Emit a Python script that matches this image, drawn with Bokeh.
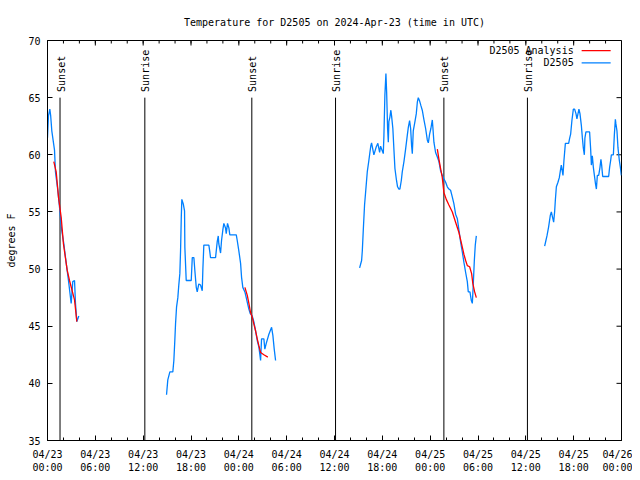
import numpy as np
import pandas as pd
from bokeh.plotting import figure
from bokeh.models import FixedTicker, DatetimeTickFormatter, Range1d, Label
from bokeh.core.properties import value
from bokeh.embed import file_html
from bokeh.resources import INLINE

FONT = "DejaVu Sans Mono"
FS = "10px"
BLUE = "#0080FF"
RED = "#FF0000"

TITLE = "Temperature for D2505 on 2024-Apr-23 (time in UTC)"
START = "2024-04-23 00:00"
SPAN_HOURS = 72

# observation series (hours after start, degrees F)
seg1_hours = [0.0, 0.12, 0.29, 0.4, 0.54, 0.88, 1.0, 1.29, 1.51, 1.72, 2.05, 2.35, 2.63,
              2.97, 3.17, 3.39, 3.51, 3.68, 3.93]
seg1_temp = [61.5, 63.4, 64.0, 63.4, 62.1, 60.4, 58.5, 56.9, 55.4, 53.7, 52.2, 50.5, 49.0,
             47.0, 48.9, 49.0, 47.0, 45.4, 45.9]

seg2_hours = [14.93, 15.09, 15.35, 15.72, 15.85, 15.97, 16.06, 16.19, 16.35, 16.47, 16.60,
              16.69, 16.78, 16.85, 17.03, 17.19, 17.23, 17.40, 18.03, 18.16, 18.36, 18.48,
              18.66, 18.78, 18.98, 19.20, 19.41, 19.49, 19.61, 20.24, 20.36, 20.45, 21.08,
              21.29, 21.42, 21.49, 21.71, 21.83, 21.99, 22.12, 22.33, 22.42, 22.58, 22.75,
              22.87, 23.68, 23.80, 24.00, 24.22, 24.34, 24.50, 24.76, 24.93, 25.09, 25.26,
              25.43, 25.68, 25.88, 26.10, 26.31, 26.51, 26.73, 26.85, 27.14, 27.26, 27.44,
              27.77, 28.11, 28.27, 28.44, 28.61]
seg2_temp = [39.0, 40.3, 41.0, 41.0, 42.0, 43.75, 45.2, 46.7, 47.5, 48.6, 49.6,
             51.6, 54.5, 56.1, 55.7, 55.1, 51.9, 49.0, 49.0, 51.0, 51.0, 49.9,
             48.4, 48.0, 48.7, 48.6, 48.1, 50.0, 52.1, 52.1, 51.5, 51.0, 51.0,
             52.4, 52.9, 52.2, 51.4, 52.5, 53.4, 54.0, 53.6, 53.1, 54.0, 53.6,
             53.0, 53.0, 52.5, 51.6, 50.5, 49.3, 48.4, 48.0, 47.5, 47.0, 46.5,
             46.1, 45.9, 45.4, 44.6, 43.75, 43.2, 42.0, 43.9, 43.9, 43.0, 43.5,
             44.3, 44.9, 44.2, 43.0, 42.0]

seg3_hours = [39.15, 39.40, 39.49, 39.61, 39.77, 39.90, 40.11, 40.31, 40.44, 40.56, 40.65,
              40.94, 41.07, 41.24, 41.44, 41.66, 41.78, 42.12, 42.20, 42.32, 42.45, 42.54,
              42.66, 42.75, 42.82, 42.95, 43.07, 43.16, 43.32, 43.45, 43.58, 43.75, 43.91,
              44.08, 44.20, 44.38, 44.50, 44.71, 44.92, 45.13, 45.26, 45.42, 45.55, 45.67,
              45.76, 45.88, 46.09, 46.26, 46.39, 46.51, 46.68, 46.84, 47.01, 47.21, 47.43,
              47.64, 47.77, 47.93, 48.09, 48.27, 48.34, 48.47, 48.68, 48.90, 49.10, 49.31,
              49.52, 49.72, 49.94, 50.15, 50.35, 50.56, 50.78, 50.98, 51.19, 51.41, 51.61,
              51.82, 52.03, 52.23, 52.45, 52.66, 52.78, 52.99, 53.16, 53.29, 53.41, 53.54,
              53.66, 53.79]
seg3_temp = [50.1, 50.75, 51.6, 53.4, 55.6, 56.7, 58.5, 59.5, 60.2, 60.8, 61.05,
             60.0, 60.3, 60.7, 61.0, 60.2, 60.75, 60.1, 61.7, 65.2, 67.1, 65.5,
             62.3, 61.1, 62.9, 63.3, 63.9, 63.4, 62.3, 60.5, 58.8, 57.9, 57.2,
             57.0, 57.0, 57.75, 58.5, 59.4, 60.5, 61.7, 62.4, 63.0, 62.3, 60.8,
             60.1, 62.1, 62.9, 63.6, 64.6, 65.0, 64.7, 64.3, 63.9, 63.1, 62.3,
             61.3, 61.05, 61.8, 62.3, 63.05, 62.4, 61.1, 60.2, 59.8, 59.4, 58.6,
             58.2, 57.9, 57.6, 57.2, 57.0, 56.9, 56.3, 55.7, 54.8, 54.4, 53.4,
             52.35, 51.5, 50.6, 49.7, 48.9, 48.0, 48.0, 47.25, 47.0, 48.7, 50.75,
             52.1, 52.9]

seg4_hours = [62.36, 62.52, 62.65, 62.86, 63.07, 63.20, 63.36, 63.49, 63.61, 63.70, 63.83,
              64.03, 64.20, 64.33, 64.45, 64.66, 64.78, 64.96, 65.37, 65.50, 65.62, 65.78,
              65.96, 66.12, 66.29, 66.41, 66.66, 66.79, 66.96, 67.09, 67.21, 67.34, 67.41,
              67.54, 68.00, 68.13, 68.22, 68.34, 68.47, 68.60, 68.72, 68.85, 68.97, 69.14,
              69.30, 69.42, 69.51, 69.64, 70.39, 70.51, 70.64, 70.73, 70.98, 71.10, 71.23,
              71.30, 71.43, 71.56, 71.73, 71.86, 71.98]
seg4_temp = [52.0, 52.5, 52.9, 53.7, 54.7, 55.0, 54.5, 54.1, 55.0, 56.0, 57.2,
             57.6, 58.0, 58.6, 59.1, 58.2, 59.5, 61.0, 61.0, 61.45, 61.8, 63.0,
             64.0, 64.0, 63.6, 63.15, 64.0, 63.6, 62.6, 61.5, 60.6, 60.0, 61.45,
             62.0, 62.0, 60.5, 59.1, 59.9, 58.9, 58.2, 57.55, 57.0, 58.2, 58.2,
             58.9, 59.6, 59.1, 58.1, 58.1, 58.9, 59.5, 60.0, 60.0, 61.7, 63.1,
             62.7, 62.1, 60.6, 59.5, 58.9, 58.2]

# analysis series
an1_hours = [0.79, 1.09, 1.38, 1.72, 2.0, 2.47, 2.76, 3.39, 3.68]
an1_temp = [59.4, 58.5, 56.3, 54.5, 52.2, 49.9, 49.0, 47.3, 45.4]
an2_hours = [24.76, 25.06, 25.26, 25.47, 25.68, 25.88, 26.10, 26.31, 26.51, 26.73, 27.14, 27.64]
an2_temp = [48.4, 47.7, 47.0, 46.2, 45.8, 45.2, 44.6, 43.9, 43.3, 42.7, 42.5, 42.3]
an3_hours = [48.90, 49.10, 49.31, 49.52, 49.72, 50.02, 50.35, 50.78, 51.19, 51.61, 51.94,
             52.23, 52.45, 52.66, 52.95, 53.20, 53.36, 53.58, 53.79]
an3_temp = [60.5, 59.6, 58.8, 58.0, 56.7, 56.1, 55.6, 55.0, 54.1, 53.2, 52.2,
            51.3, 50.75, 50.3, 50.2, 49.6, 48.7, 48.0, 47.5]

sunset_hours = [1.57, 25.63, 49.72]
sunrise_hours = [12.21, 36.13, 60.2]

Y_MIN, Y_MAX = 35, 70
y_ticks = [35, 40, 45, 50, 55, 60, 65, 70]
x_major_hours = list(range(0, 73, 6))
x_minor_hours = list(range(0, 73, 2))

start = pd.Timestamp(START)


def to_dt(hours):
    return [start + pd.Timedelta(hours=h) for h in hours]


def to_ms(hours):
    return [(start + pd.Timedelta(hours=h)).timestamp() * 1000.0 for h in hours]


p = figure(frame_width=574, frame_height=400, x_axis_type="datetime", output_backend="svg",
           toolbar_location=None, title=TITLE,
           x_range=Range1d(start, start + pd.Timedelta(hours=SPAN_HOURS)),
           y_range=Range1d(Y_MIN, Y_MAX),
           min_border_left=47, min_border_right=11, min_border_top=40, min_border_bottom=32)
p.background_fill_color = "white"
p.border_fill_color = "white"
p.outline_line_color = "black"
p.outline_line_width = 1
p.xgrid.visible = False
p.ygrid.visible = False

p.title.text_font = FONT
p.title.text_font_size = FS
p.title.text_font_style = "normal"
p.title.align = "center"
p.title.text_color = "black"
p.title.standoff = 26

xticker = FixedTicker(ticks=to_ms(x_major_hours), minor_ticks=to_ms(x_minor_hours))
fmt = "%m/%d\n%H:%M"
xformatter = DatetimeTickFormatter(microseconds=fmt, milliseconds=fmt, seconds=fmt, minsec=fmt,
                                   minutes=fmt, hourmin=fmt, hours=fmt, days=fmt,
                                   months=fmt, years=fmt)
yticker = FixedTicker(ticks=y_ticks, minor_ticks=[])


def style_axis(ax):
    ax.axis_line_color = "black"
    ax.major_tick_line_color = "black"
    ax.minor_tick_line_color = "black"
    ax.major_tick_in = 5
    ax.major_tick_out = 0
    ax.minor_tick_in = 3
    ax.minor_tick_out = 0
    ax.major_label_text_font = FONT
    ax.major_label_text_font_size = FS
    ax.major_label_text_color = "black"
    ax.axis_label_text_font = FONT
    ax.axis_label_text_font_size = FS
    ax.axis_label_text_font_style = "normal"
    ax.axis_label_text_color = "black"


xa = p.xaxis[0]
xa.ticker = xticker
xa.formatter = xformatter
style_axis(xa)
xa.major_label_standoff = 8

ya = p.yaxis[0]
ya.ticker = yticker
style_axis(ya)
ya.major_label_standoff = 7
ya.axis_label = "degrees F"
ya.axis_label_standoff = 8

# mirrored ticks on the top and right borders
p.ray(x=to_dt(x_major_hours), y=[Y_MAX] * len(x_major_hours), length=5, length_units="screen",
      angle=-np.pi / 2, line_color="black", line_width=1)
p.ray(x=to_dt(x_minor_hours), y=[Y_MAX] * len(x_minor_hours), length=3, length_units="screen",
      angle=-np.pi / 2, line_color="black", line_width=1)
p.ray(x=to_dt([SPAN_HOURS] * len(y_ticks)), y=y_ticks, length=5, length_units="screen",
      angle=np.pi, line_color="black", line_width=1)

# sunrise / sunset markers
for hrs, name in ((sunset_hours, "Sunset"), (sunrise_hours, "Sunrise")):
    p.segment(x0=to_dt(hrs), y0=[Y_MIN] * len(hrs), x1=to_dt(hrs), y1=[65] * len(hrs),
              line_color="black", line_width=1)
    p.text(x=to_dt(hrs), y=[65.5] * len(hrs), text=[name] * len(hrs), angle=np.pi / 2,
           text_align="left", text_baseline="middle", text_font=value(FONT),
           text_font_size=value(FS), text_color="black", x_offset=1)

# data
for hrs, tmp in ((seg1_hours, seg1_temp), (seg2_hours, seg2_temp),
                 (seg3_hours, seg3_temp), (seg4_hours, seg4_temp)):
    p.line(x=to_dt(hrs), y=tmp, line_color=BLUE, line_width=1.3)

for hrs, tmp in ((an1_hours, an1_temp), (an2_hours, an2_temp), (an3_hours, an3_temp)):
    p.line(x=to_dt(hrs), y=tmp, line_color=RED, line_width=1.3)

# legend (gnuplot style: text right-aligned, sample on the right)
legend_items = [("D2505 Analysis", RED, 69.12), ("D2505", BLUE, 68.05)]
for label, col, yy in legend_items:
    p.add_layout(Label(x=to_ms([66.0])[0], y=yy, text=label, text_align="right",
                       text_baseline="middle", text_font=FONT, text_font_size=FS,
                       text_color="black"))
    p.line(x=to_dt([67.0, 70.64]), y=[yy, yy], line_color=col, line_width=1.3)

open("out.html", "w").write(file_html(p, INLINE))
